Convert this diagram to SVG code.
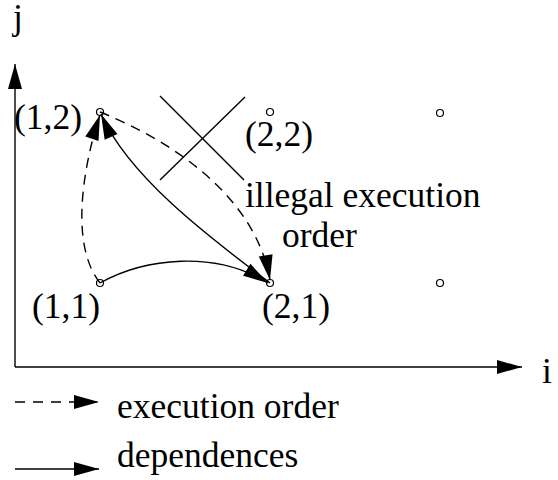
<svg xmlns="http://www.w3.org/2000/svg" width="558" height="480" viewBox="0 0 558 480">
  <style>
    .pt { fill: #fff; stroke: #000; stroke-width: 1.2; }
    .ln { fill: none; stroke: #000; stroke-width: 1.4; }
    .dash { stroke-dasharray: 10 7; }
    .lbl { font-family: "Liberation Serif", "Times New Roman", serif; font-size: 35.5px; fill: #000; }
  </style>
  <defs>
    <marker id="head" markerUnits="userSpaceOnUse" markerWidth="26" markerHeight="14" refX="25" refY="7" orient="auto" overflow="visible">
      <path d="M0,0 L25,7 L0,14 z" fill="#000"/>
    </marker>
  </defs>
  <rect width="558" height="480" fill="#fff"/>

  <!-- axes -->
  <g id="axes">
    <path class="ln" d="M15,367 L15,64" marker-end="url(#head)"/>
    <path class="ln" d="M15,367 L522,367" marker-end="url(#head)"/>
    <text class="lbl" x="13" y="29">j</text>
    <text class="lbl" x="542" y="383">i</text>
  </g>

  <!-- iteration points -->
  <g id="n11"><circle class="pt" cx="100" cy="283" r="3.5"/><text class="lbl" x="32" y="318">(1,1)</text></g>
  <g id="n12"><circle class="pt" cx="100" cy="112" r="3.5"/><text class="lbl" x="14" y="129">(1,2)</text></g>
  <g id="n21"><circle class="pt" cx="270" cy="283" r="3.5"/><text class="lbl" x="262" y="318">(2,1)</text></g>
  <g id="n22"><circle class="pt" cx="270" cy="112" r="3.5"/><text class="lbl" x="245" y="146">(2,2)</text></g>
  <g id="n31"><circle class="pt" cx="440" cy="283" r="3.5"/></g>
  <g id="n32"><circle class="pt" cx="440" cy="113" r="3.5"/></g>

  <!-- connectors -->
  <g id="edges">
    <path class="ln dash" d="M100,283 C66,240 88,150 100,115" marker-end="url(#head)"/>
    <path class="ln" d="M270,283 C220,245 130,180 101,114" marker-end="url(#head)"/>
    <path class="ln dash" d="M100,112 C170,140 255,195 270,280" marker-end="url(#head)"/>
    <path class="ln" d="M100,283 C145,258 215,250 268,283" marker-end="url(#head)"/>
  </g>

  <!-- crossed-out ordering -->
  <g id="cross">
    <line class="ln" x1="160" y1="96" x2="244" y2="180"/>
    <line class="ln" x1="245" y1="97" x2="160" y2="180"/>
    <text class="lbl" x="245" y="207">illegal execution</text>
    <text class="lbl" x="282" y="247">order</text>
  </g>

  <!-- legend -->
  <g id="legend">
    <path class="ln" d="M15,402 L99,402" stroke-dasharray="10 8" marker-end="url(#head)"/>
    <text class="lbl" x="117" y="418">execution order</text>
    <path class="ln" d="M15,469 L99,469" marker-end="url(#head)"/>
    <text class="lbl" x="117" y="467">dependences</text>
  </g>
</svg>
